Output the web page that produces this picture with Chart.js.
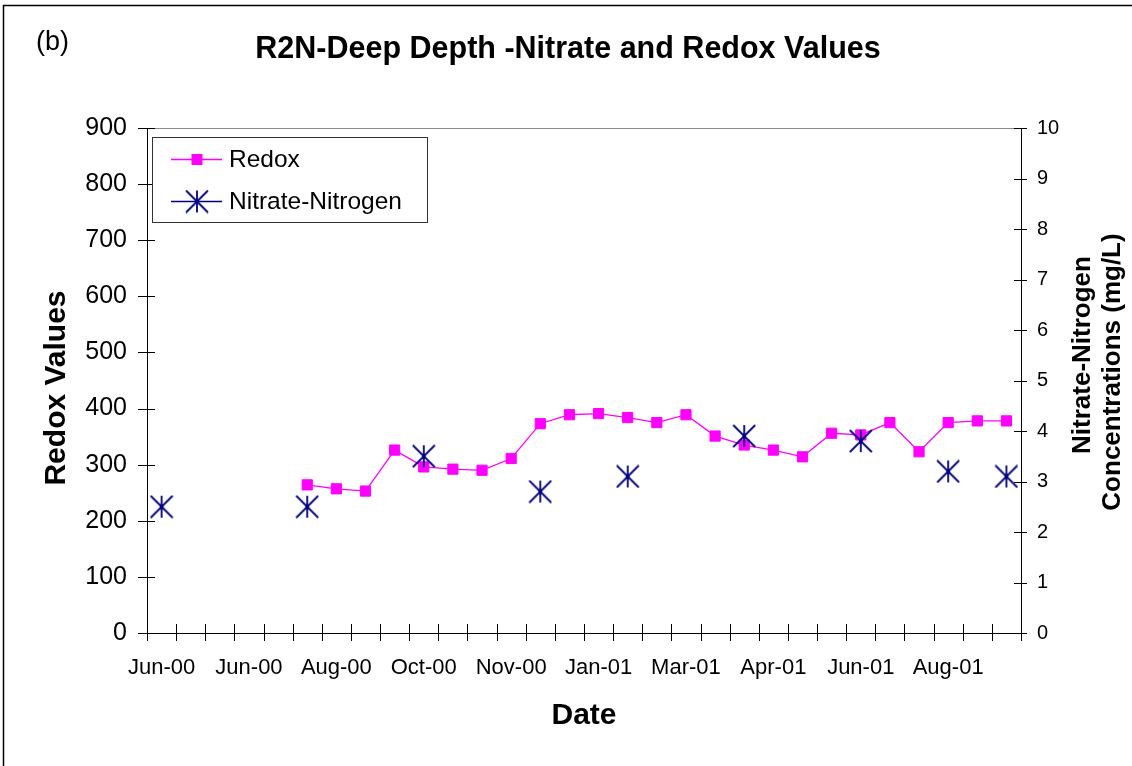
<!DOCTYPE html>
<html>
<head>
<meta charset="utf-8">
<title>R2N-Deep Depth - Nitrate and Redox Values</title>
<script src="https://cdn.jsdelivr.net/npm/chart.js@4.4.1/dist/chart.umd.min.js"></script>
<style>
  html, body { margin: 0; padding: 0; background: #fff; }
  canvas { display: block; }
</style>
</head>
<body>
<canvas id="redoxChart" width="1132" height="766"></canvas>
<script>
  const FONT = "'Liberation Sans', Arial, sans-serif";

  // sampling slots along the date axis, only every third slot is labelled
  const tickLabels = ['Jun-00', 'Jun-00', 'Aug-00', 'Oct-00', 'Nov-00', 'Jan-01', 'Mar-01', 'Apr-01', 'Jun-01', 'Aug-01'];
  const LABEL_STEP = 3;
  const SLOT_COUNT = 30;
  const categories = Array.from({ length: SLOT_COUNT }, (_, i) => (i % LABEL_STEP === 0 ? tickLabels[i / LABEL_STEP] : ''));

  // redox potential per slot (left axis)
  const redox = [null, null, null, null, null,
    264, 257, 253, 326, 296, 292, 290, 311, 373, 389,
    391, 384, 375, 389, 351, 335, 326, 314, 356, 353,
    375, 323, 375, 378, 378];

  // nitrate-nitrogen in mg/L per slot (right axis)
  const nitrate = [2.5, null, null, null, null,
    2.5, null, null, null, 3.5, null, null, null, 2.8, null,
    null, 3.1, null, null, null, 3.9, null, null, null, 3.8,
    null, null, 3.2, null, 3.1];

  const redoxTicks = [0, 900, 100];
  const nitrateTicks = [0, 10, 1];

  const MAGENTA = '#ff00ff';
  const NAVY = '#000080';

  // excel style asterisk: vertical bar plus an X, small dot in the middle
  function makeStar(size, color) {
    const c = document.createElement('canvas');
    c.width = c.height = size;
    const g = c.getContext('2d');
    const m = size / 2, r = size / 2 - 1;
    g.strokeStyle = color;
    g.lineWidth = 1.8;
    g.beginPath();
    g.moveTo(m, m - r); g.lineTo(m, m + r);
    g.moveTo(m - r, m - r); g.lineTo(m + r, m + r);
    g.moveTo(m + r, m - r); g.lineTo(m - r, m + r);
    g.stroke();
    g.fillStyle = color;
    g.beginPath();
    g.arc(m, m, 2, 0, Math.PI * 2);
    g.fill();
    return c;
  }
  const starImg = makeStar(24, NAVY);

  const decorPlugin = {
    id: 'decor',
    afterDraw(chart) {
      const { ctx, chartArea, scales } = chart;
      const { left, right, top, bottom } = chartArea;
      const px = v => Math.round(v) + 0.5;
      ctx.save();

      // outer frame (top and left edges)
      ctx.strokeStyle = '#000';
      ctx.lineWidth = 1.5;
      ctx.beginPath();
      ctx.moveTo(3.5, 766); ctx.lineTo(3.5, 5.5); ctx.lineTo(1132, 5.5);
      ctx.stroke();

      // plot area top edge
      ctx.lineWidth = 1;
      ctx.strokeStyle = '#8c8c8c';
      ctx.beginPath();
      ctx.moveTo(left, px(top)); ctx.lineTo(right, px(top));
      ctx.stroke();

      // tick marks crossing the axes
      ctx.strokeStyle = '#000';
      ctx.beginPath();
      scales.y.ticks.forEach(t => {
        const y = px(scales.y.getPixelForValue(t.value));
        ctx.moveTo(left - 9, y); ctx.lineTo(left + 8, y);
      });
      scales.y2.ticks.forEach(t => {
        const y = px(scales.y2.getPixelForValue(t.value));
        ctx.moveTo(right - 7, y); ctx.lineTo(right + 6, y);
      });
      const slot = scales.x.getPixelForValue(1) - scales.x.getPixelForValue(0);
      for (let i = 0; i <= SLOT_COUNT; i++) {
        const x = px(scales.x.getPixelForValue(i) - slot / 2);
        ctx.moveTo(x, bottom - 9); ctx.lineTo(x, bottom + 8);
      }
      ctx.stroke();

      // titles
      ctx.fillStyle = '#000';
      ctx.textAlign = 'center';
      ctx.textBaseline = 'alphabetic';
      ctx.font = 'bold 30.5px ' + FONT;
      ctx.fillText('R2N-Deep Depth -Nitrate and Redox Values', 568, 58);
      ctx.font = 'bold 30px ' + FONT;
      ctx.fillText('Date', 584, 724);

      ctx.textAlign = 'left';
      ctx.font = '27px ' + FONT;
      ctx.fillText('(b)', 36, 50);

      ctx.textAlign = 'center';
      ctx.save();
      ctx.translate(65, 388);
      ctx.rotate(-Math.PI / 2);
      ctx.font = 'bold 30px ' + FONT;
      ctx.fillText('Redox Values', 0, 0);
      ctx.restore();

      ctx.save();
      ctx.font = 'bold 26px ' + FONT;
      ctx.translate(1090, 355);
      ctx.rotate(-Math.PI / 2);
      ctx.fillText('Nitrate-Nitrogen', 0, 0);
      ctx.restore();
      ctx.save();
      ctx.font = 'bold 26px ' + FONT;
      ctx.translate(1120, 372);
      ctx.rotate(-Math.PI / 2);
      ctx.fillText('Concentrations (mg/L)', 0, 0);
      ctx.restore();

      // legend box
      ctx.fillStyle = '#fff';
      ctx.fillRect(152.5, 137.5, 275, 85);
      ctx.strokeStyle = '#333';
      ctx.lineWidth = 1;
      ctx.strokeRect(152.5, 137.5, 275, 85);

      ctx.lineWidth = 1.3;
      ctx.strokeStyle = MAGENTA;
      ctx.beginPath(); ctx.moveTo(171, 159.5); ctx.lineTo(222, 159.5); ctx.stroke();
      ctx.fillStyle = MAGENTA;
      ctx.fillRect(191.5, 154, 11, 11);

      ctx.strokeStyle = NAVY;
      ctx.beginPath(); ctx.moveTo(171, 201.5); ctx.lineTo(222, 201.5); ctx.stroke();
      ctx.drawImage(starImg, 197 - 12, 201.5 - 12);

      ctx.fillStyle = '#000';
      ctx.textAlign = 'left';
      ctx.font = '24.5px ' + FONT;
      ctx.fillText('Redox', 229, 167);
      ctx.fillText('Nitrate-Nitrogen', 229, 209);

      ctx.restore();
    }
  };

  new Chart(document.getElementById('redoxChart'), {
    type: 'line',
    data: {
      labels: categories,
      datasets: [
        {
          label: 'Nitrate-Nitrogen',
          data: nitrate,
          yAxisID: 'y2',
          showLine: false,
          pointStyle: starImg,
          pointRadius: 11,
          borderColor: NAVY,
          backgroundColor: NAVY,
          order: 0
        },
        {
          label: 'Redox',
          data: redox,
          yAxisID: 'y',
          borderColor: MAGENTA,
          borderWidth: 1.3,
          backgroundColor: MAGENTA,
          pointStyle: 'rect',
          pointRadius: 7.2,
          pointBorderWidth: 1,
          pointBackgroundColor: MAGENTA,
          pointBorderColor: MAGENTA,
          tension: 0,
          order: 1
        }
      ]
    },
    options: {
      responsive: false,
      animation: false,
      events: [],
      layout: { padding: { top: 128, left: 0, right: 0, bottom: 0 } },
      plugins: {
        legend: { display: false },
        tooltip: { enabled: false }
      },
      scales: {
        x: {
          type: 'category',
          offset: true,
          grid: { display: false, drawTicks: false },
          border: { display: true, color: '#000', width: 1 },
          ticks: {
            autoSkip: false,
            maxRotation: 0,
            minRotation: 0,
            padding: 22,
            color: '#000',
            font: { family: FONT, size: 22 }
          },
          afterFit: s => { s.height = 133; }
        },
        y: {
          position: 'left',
          min: redoxTicks[0],
          max: redoxTicks[1],
          grid: { display: false, drawTicks: false },
          border: { display: true, color: '#000', width: 1 },
          ticks: {
            stepSize: redoxTicks[2],
            padding: 20,
            color: '#000',
            font: { family: FONT, size: 25 }
          },
          afterFit: s => { s.width = 147; }
        },
        y2: {
          position: 'right',
          min: nitrateTicks[0],
          max: nitrateTicks[1],
          grid: { display: false, drawTicks: false },
          border: { display: true, color: '#000', width: 1 },
          ticks: {
            stepSize: nitrateTicks[2],
            padding: 16,
            color: '#000',
            font: { family: FONT, size: 20 }
          },
          afterFit: s => { s.width = 111; }
        }
      }
    },
    plugins: [decorPlugin]
  });
</script>
</body>
</html>
